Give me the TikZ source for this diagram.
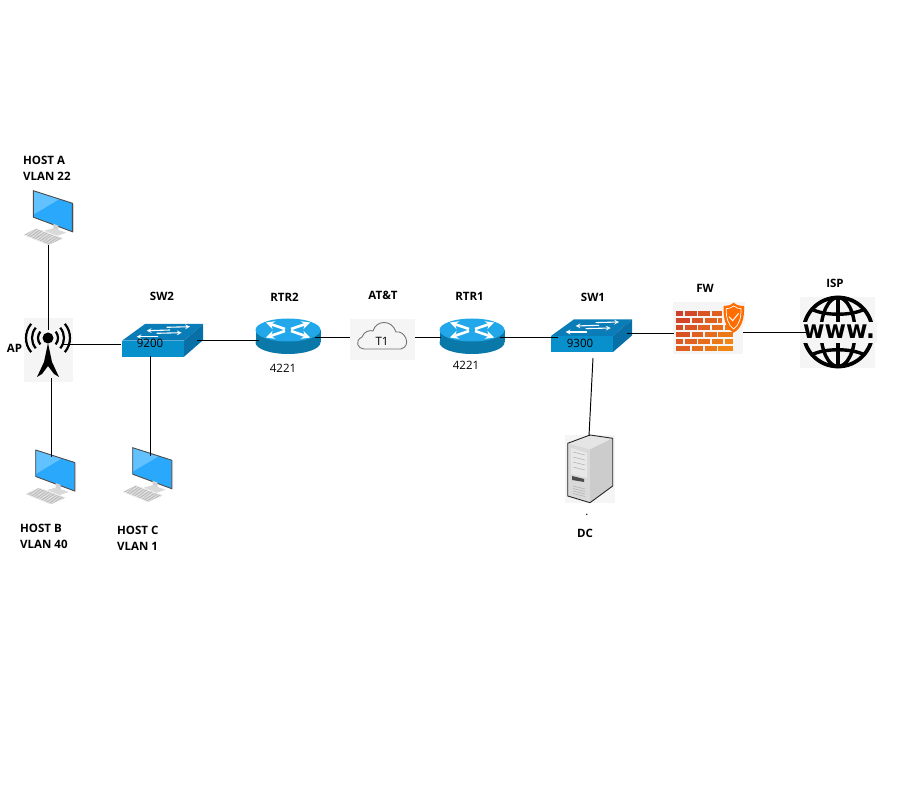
\documentclass[tikz,border=0pt]{standalone}
\usepackage{fontspec}
\setmainfont{Open Sans}
\newfontfamily\wwwfont{DejaVu Sans}
\usetikzlibrary{
    arrows,
    calc,
    positioning
}
\definecolor{iconbg}{HTML}{F5F5F5}
\definecolor{screenblue}{HTML}{2AA9FC}
\definecolor{screenlight}{HTML}{62C1FF}
\definecolor{swtop}{HTML}{0A7DB8}
\definecolor{swfront}{HTML}{0790CC}
\definecolor{swside}{HTML}{0870A6}
\definecolor{rtrtop}{HTML}{22A8EA}
\definecolor{rtrside}{HTML}{0A78A8}
\definecolor{brickred}{HTML}{CF3F2A}
\definecolor{brickorange}{HTML}{F68D12}
\tikzset{
    link/.style={draw=black, line width=0.95pt},
    hname/.style={font=\bfseries\fontsize{11.5}{16}\selectfont, inner sep=0pt, align=left},
    model/.style={font=\fontsize{11.5}{14}\selectfont, inner sep=0pt},
    iconbox/.style={inner sep=0pt, fill=iconbg},
    pcicon/.pic={
        \fill[gray!35] (39, 12.5) -- (40.5, 13) -- (40.5, 41.5) -- (39, 41) -- cycle;
        \fill[screenblue] (0, 0) -- (39, 12.5) -- (39, 41) -- (0, 26.5) -- cycle;
        \fill[screenlight] (0, 0) -- (26, 8.5) -- (0, 24) -- cycle;
        \draw[black!70, line width=0.9pt] (0, 0) -- (39, 12.5) -- (39, 41) -- (0, 26.5) -- cycle;
        \fill[gray!35] (20, 33) -- (25, 35) -- (25, 40) -- (20, 39) -- cycle;
        \fill[gray!30] (11, 40) -- (20, 37.5) -- (33, 42) -- (24, 45) -- cycle;
        \fill[gray!22] (-10, 44.3) -- (3.4, 37.6) -- (30, 47.6) -- (15, 54.3) -- cycle;
        \foreach \k in {0, 1, 2, 3}
            \draw[white, line width=0.5pt] ($(-10, 44.3)!0.2*\k+0.1!(15, 54.3)$) -- ($(3.4, 37.6)!0.2*\k+0.1!(30, 47.6)$);
        \foreach \k in {1, ..., 7}
            \draw[gray!70, line width=0.4pt] ($(-10, 44.3)!0.125*\k!(3.4, 37.6)$) -- ($(15, 54.3)!0.125*\k!(30, 47.6)$);
    },
    swicon/.pic={
        \fill[swfront] (0, 0) rectangle (62, 16);
        \fill[swtop] (0, 0) -- (23, -16.7) -- (81, -16.7) -- (62, 0) -- cycle;
        \fill[swside] (62, 0) -- (81, -16.7) -- (81, -0.5) -- (62, 16) -- cycle;
        \draw[white, line width=1.1pt, ->, >=stealth] (44.7, -13.4) -- (68, -14);
        \draw[white, line width=1.1pt, ->, >=stealth] (48, -10.7) -- (24.7, -10);
        \draw[white, line width=1.1pt, ->, >=stealth] (34.7, -7.4) -- (59.7, -8);
        \draw[white, line width=1.1pt, ->, >=stealth] (36.3, -4) -- (14.7, -4);
    },
    rtricon/.pic={
        \fill[rtrside] (0, 12.5) ellipse (32.5 and 11.5);
        \fill[rtrside] (-32.5, 0) rectangle (32.5, 12.5);
        \fill[rtrtop] (0, 0) ellipse (32.5 and 11.5);
        \foreach \dx/\dy in {-1/-1, 1/-1, -1/1, 1/1} {
            \draw[white, line width=2.6pt, ->, >=stealth] (\dx*3, \dy*1) -- (\dx*22, \dy*7.5);
        }
    }
}

\begin{document}
\begin{tikzpicture}[x=1pt, y=-1pt]
    \useasboundingbox (0, 0) rectangle (905, 791);

    % icons
    \node[iconbox, minimum width=49pt, minimum height=64pt] (ap) at (48.5, 350) {};
    \foreach \rr in {10, 16, 22} {
        \draw[black, line width=2.2pt] (48, 338) ++(140:\rr) arc (140:220:\rr);
        \draw[black, line width=2.2pt] (48, 338) ++(40:\rr) arc (40:-40:\rr);
    }
    \fill[black] (48, 338) circle (5.5);
    \fill[black] (48, 343) -- (52, 362) -- (59, 377) -- (54, 374) -- (48, 366) -- (42, 374) -- (37, 377) -- (44, 362) -- cycle;

    \pic at (33.3, 190.7) {pcicon};
    \pic at (35.7, 450) {pcicon};
    \pic at (132.7, 447.7) {pcicon};
    \pic at (122, 340.7) {swicon};
    \pic at (551, 336) {swicon};
    \pic at (288, 330) {rtricon};
    \pic at (472, 330) {rtricon};

    \node[iconbox, minimum width=65pt, minimum height=41pt] (cloud) at (382.5, 339.5) {};
    \draw[gray!90!black, line width=0.9pt] (364, 349) .. controls (358, 349) and (354, 341) .. (362, 337)
        .. controls (364, 331) and (370, 330) .. (373, 331)
        .. controls (376, 320) and (392, 319) .. (396, 332)
        .. controls (405, 330) and (412, 346) .. (401, 349) -- cycle;

    \node[iconbox, minimum width=70pt, minimum height=52pt] (fw) at (708, 328) {};
    \begin{scope}[shift={(540, 280)}, scale=0.3333]
        \foreach \yy in {92, 134, 177} {
            \foreach \xa/\xb in {408/430, 435/470, 475/510, 515/550, 555/578} {
                \pgfmathtruncatemacro\mixv{(\xa-408+\yy-92)/2.55}
                \fill[brickorange!\mixv!brickred] (\xa, \yy) rectangle (\xb, \yy+15);
            }
        }
        \foreach \yy in {113, 155, 197} {
            \foreach \xa/\xb in {408/450, 455/490, 495/530, 535/578} {
                \pgfmathtruncatemacro\mixv{(\xa-408+\yy-92)/2.55}
                \fill[brickorange!\mixv!brickred] (\xa, \yy) rectangle (\xb, \yy+15);
            }
        }
        \fill[iconbg] (545, 65) rectangle (615, 132);
        \fill[orange!85!red] (581, 68) .. controls (590, 76) and (600, 78) .. (612, 78) .. controls (614, 115) and (605, 145) .. (581, 158) .. controls (557, 145) and (549, 115) .. (551, 78) .. controls (562, 78) and (572, 76) .. (581, 68) -- cycle;
        \draw[white, line width=0.7pt] (581, 78) .. controls (588, 84) and (596, 86) .. (603, 86) .. controls (604, 112) and (598, 135) .. (581, 147) .. controls (564, 135) and (558, 112) .. (559, 86) .. controls (566, 86) and (574, 84) .. (581, 78) -- cycle;
        \draw[white, line width=1pt] (567, 110) -- (578, 122) -- (596, 100);
    \end{scope}

    \node[iconbox, minimum width=75pt, minimum height=71pt] (isp) at (837.5, 332.5) {};
    \draw[black, line width=3.8pt] (838, 332) circle (34.5);
    \draw[black, line width=3.4pt] (838, 332) ellipse (17 and 34.5);
    \draw[black, line width=3.4pt] (838, 298) -- (838, 366);
    \draw[black, line width=3.4pt] (811, 309) .. controls (825, 316) and (851, 316) .. (865, 309);
    \draw[black, line width=3.4pt] (811, 355) .. controls (825, 348) and (851, 348) .. (865, 355);
    \fill[iconbg] (800, 322) rectangle (877, 343);
    \node[inner sep=0pt, font=\wwwfont\bfseries\fontsize{25}{27}\selectfont, xscale=0.93] (www) at (839, 332) {www.};

    \node[iconbox, minimum width=50pt, minimum height=68pt] (dc) at (590, 469) {};
    \fill[gray!20] (567.7, 443.3) -- (590, 435) -- (612.7, 438.3) -- (590, 449.3) -- cycle;
    \fill[gray!30] (567.7, 443.3) -- (590, 449.3) -- (590, 502.7) -- (567.7, 496) -- cycle;
    \fill[gray!40] (590, 449.3) -- (612.7, 438.3) -- (612.7, 486) -- (590, 502.7) -- cycle;
    \draw[black!85, line width=0.9pt] (567.7, 443.3) -- (590, 435) -- (612.7, 438.3) -- (612.7, 486) -- (590, 502.7) -- (567.7, 496) -- cycle;
    \fill[gray!18] (571, 448) -- (587, 453) -- (587, 478) -- (571, 474) -- cycle;
    \foreach \k in {0, 1, 2, 3}
        \draw[gray!60, line width=0.5pt] (573, 452+5*\k) -- (585, 455+5*\k);
    \fill[black!70] (572, 476) -- (584, 479) -- (584, 482) -- (572, 480) -- cycle;
    \foreach \k in {0, 1, 2, 3}
        \draw[gray!60, line width=0.6pt] (573, 486+2.5*\k) -- (585, 489+2.5*\k);

    % connector ends
    \coordinate (hosta-s) at (48, 245);
    \coordinate (ap-n) at (48, 330);
    \coordinate (ap-e) at (62, 344);
    \coordinate (ap-s) at (51, 378);
    \coordinate (hostb-n) at (51, 457);
    \coordinate (sw2-w) at (121, 344);
    \coordinate (sw2-s) at (150, 356);
    \coordinate (sw2-e) at (197, 340);
    \coordinate (hostc-n) at (150, 456);
    \coordinate (rtr2-w) at (259, 340);
    \coordinate (rtr2-e) at (315, 337);
    \coordinate (rtr1-w) at (441, 337);
    \coordinate (rtr1-e) at (500, 337);
    \coordinate (sw1-w) at (558, 337);
    \coordinate (sw1-e) at (627, 333);
    \coordinate (sw1-s) at (593, 358);
    \coordinate (dc-n) at (589, 436);
    \coordinate (fw-w) at (674, 333);
    \coordinate (fw-e) at (743, 332);
    \coordinate (isp-w) at (808, 332);

    \draw[link] (hosta-s) -- (ap-n);
    \draw[link] (ap-e) -- (sw2-w);
    \draw[link] (ap-s) -- (hostb-n);
    \draw[link] (sw2-s) -- (hostc-n);
    \draw[link] (sw2-e) -- (rtr2-w);
    \draw[link] (rtr2-e) -- (cloud.west |- rtr2-e);
    \draw[link] (cloud.east |- rtr1-w) -- (rtr1-w);
    \draw[link] (rtr1-e) -- (sw1-w);
    \draw[link] (sw1-e) -- (fw-w);
    \draw[link] (fw-e) -- (isp-w);
    \draw[link] (sw1-s) -- (dc-n);

    % labels
    \node[hname, anchor=west] (hostalabel) at (23, 168) {HOST A\\VLAN 22};
    \node[hname, anchor=west] (hostblabel) at (20, 536) {HOST B\\VLAN 40};
    \node[hname, anchor=west] (hostclabel) at (117, 538) {HOST C\\VLAN 1};
    \node[hname] (aplabel) at (14.5, 348) {AP};
    \node[hname] (sw2label) at (162, 296) {SW2};
    \node[hname] (rtr2label) at (284.5, 297) {RTR2};
    \node[hname] (attlabel) at (383, 295) {AT\&T};
    \node[hname] (rtr1label) at (469.5, 296) {RTR1};
    \node[hname] (sw1label) at (593, 297) {SW1};
    \node[hname] (fwlabel) at (705, 288) {FW};
    \node[hname] (isplabel) at (835, 283) {ISP};
    \node[hname] (dclabel) at (585, 533) {DC};
    \node[model] (dot) at (587, 515) {.};
    \node[model] (sw2model) at (150, 343) {9200};
    \node[model] (sw1model) at (580, 343) {9300};
    \node[model] (rtr2model) at (283, 368) {4221};
    \node[model] (rtr1model) at (466, 365) {4221};
    \node[model] (t1label) at (382, 341) {T1};
\end{tikzpicture}
\end{document}
